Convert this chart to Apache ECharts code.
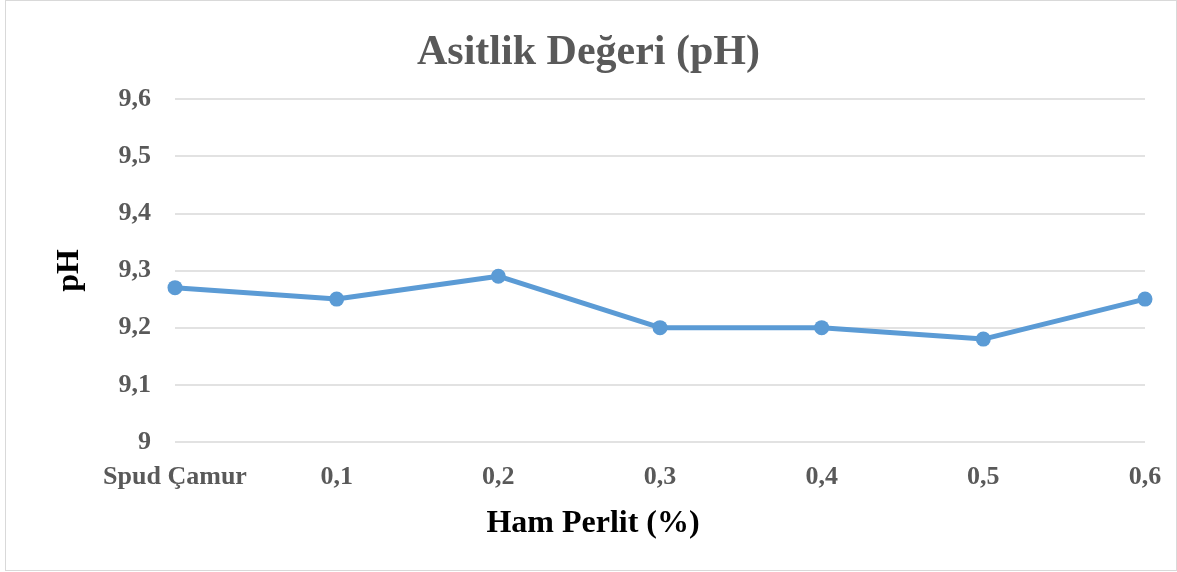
<!DOCTYPE html>
<html>
<head>
<meta charset="utf-8">
<script src="https://cdn.jsdelivr.net/npm/echarts@6/dist/echarts.min.js"></script>
<style>
  html, body { margin: 0; padding: 0; background: #fff; }
  #frame { position: absolute; left: 5px; top: 0px; width: 1172px; height: 571px; border: 1px solid #d9d9d9; box-sizing: border-box; }
  #chart { position: absolute; left: 0; top: 0; width: 1177px; height: 572px; }
</style>
</head>
<body>
<div id="frame"></div>
<div id="chart"></div>
<script>
// Perlite dosage categories and measured pH values
const categories = ['Spud Çamur', '0,1', '0,2', '0,3', '0,4', '0,5', '0,6'];
const phValues = [9.27, 9.25, 9.29, 9.20, 9.20, 9.18, 9.25];
const yTicks = { min: 9.0, max: 9.6, step: 0.1 };

const FONT = '"Liberation Serif", "Times New Roman", serif';
const chart = echarts.init(document.getElementById('chart'), null, { renderer: 'canvas' });

chart.setOption({
  backgroundColor: 'transparent',
  animation: false,
  title: {
    text: 'Asitlik Değeri (pH)',
    left: 'center',
    top: 27,
    textStyle: { fontFamily: FONT, fontSize: 42, fontWeight: 'bold', color: '#595959' }
  },
  grid: { left: 175, right: 32, top: 99, bottom: 130 },
  xAxis: {
    type: 'category',
    data: categories,
    boundaryGap: false,
    axisLine: { show: false },
    axisTick: { show: false },
    axisLabel: {
      margin: 22,
      fontFamily: FONT, fontSize: 26, fontWeight: 'bold', color: '#595959',
      interval: 0
    },
    splitLine: { show: false }
  },
  yAxis: {
    type: 'value',
    min: yTicks.min,
    max: yTicks.max,
    interval: yTicks.step,
    name: 'pH',
    nameLocation: 'middle',
    nameGap: 89,
    nameTextStyle: { fontFamily: FONT, fontSize: 32, fontWeight: 'bold', color: '#000' },
    axisLine: { show: false },
    axisTick: { show: false },
    axisLabel: {
      margin: 24,
      fontFamily: FONT, fontSize: 26, fontWeight: 'bold', color: '#595959',
      formatter: v => {
        const r = Math.round(v * 10) / 10;
        return Number.isInteger(r) ? String(r) : r.toFixed(1).replace('.', ',');
      }
    },
    splitLine: { show: true, lineStyle: { color: '#d9d9d9', width: 1.5 } }
  },
  graphic: [{
    type: 'text',
    x: 593,
    y: 524,
    style: {
      text: 'Ham Perlit (%)',
      fontFamily: FONT, fontSize: 32, fontWeight: 'bold', fill: '#000',
      textAlign: 'center', textVerticalAlign: 'middle'
    }
  }],
  series: [{
    type: 'line',
    data: phValues,
    symbol: 'circle',
    symbolSize: 15,
    lineStyle: { color: '#5b9bd5', width: 5 },
    itemStyle: { color: '#5b9bd5' },
    clip: false
  }]
});
</script>
</body>
</html>
